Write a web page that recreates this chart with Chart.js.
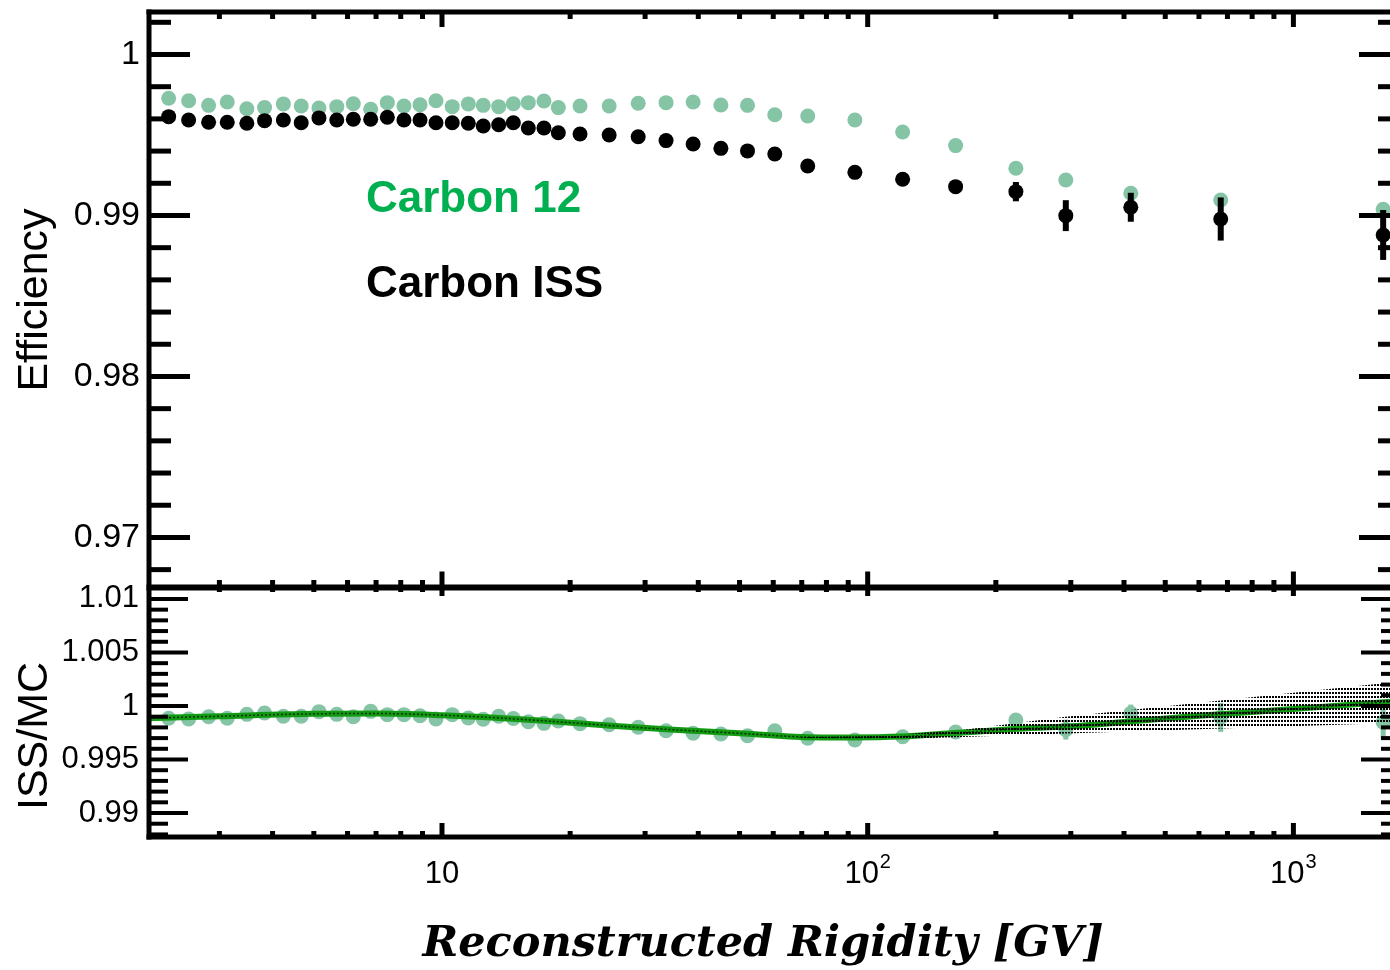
<!DOCTYPE html>
<html><head><meta charset="utf-8">
<script src="https://cdn.jsdelivr.net/npm/chart.js@4.4.1/dist/chart.umd.min.js"></script>
<style>
html,body{margin:0;padding:0;overflow:hidden;background:#fff;width:1390px;height:970px}
#wrap{position:absolute;left:0;top:0;width:1410px;height:970px}
</style>
</head><body><div id="wrap"><canvas id="c" width="1410" height="970"></canvas></div>
<script>
// ---------------- data ----------------
const rigidity = [2.28, 2.54, 2.83, 3.13, 3.48, 3.83, 4.24, 4.67, 5.14, 5.66, 6.19, 6.80, 7.44, 8.14, 8.88, 9.68,
  10.57, 11.53, 12.50, 13.59, 14.71, 15.95, 17.36, 18.76, 21.1, 24.7, 28.9, 33.6, 38.9, 45.2, 52.2, 60.5, 72.3,
  93.3, 120.8, 160.9, 222.9, 292, 415, 675, 1625];
const effMC = [0.99728, 0.99713, 0.99684, 0.99705, 0.99663, 0.99670, 0.99693, 0.99680, 0.99668, 0.99676, 0.99694,
  0.99660, 0.99701, 0.99680, 0.99688, 0.99713, 0.99676, 0.99693, 0.99684, 0.99676, 0.99694, 0.99701, 0.99711,
  0.99670, 0.99680, 0.99680, 0.99697, 0.99701, 0.99705, 0.99686, 0.99684, 0.99626, 0.99618, 0.99593, 0.99519,
  0.99434, 0.99293, 0.99220, 0.99138, 0.99096, 0.99038];
const effISS = [0.99614, 0.99593, 0.99579, 0.99579, 0.99573, 0.99589, 0.99593, 0.99576, 0.99606, 0.99593, 0.99598,
  0.99598, 0.99610, 0.99593, 0.99593, 0.99576, 0.99576, 0.99573, 0.99556, 0.99564, 0.99576, 0.99543, 0.99543,
  0.99514, 0.99506, 0.99500, 0.99489, 0.99465, 0.99444, 0.99417, 0.99401, 0.99382, 0.99307, 0.99268, 0.99225,
  0.99179, 0.99148, 0.98999, 0.99051, 0.98978, 0.98879];
const effISSErr = [0.00008, 0.00008, 0.00008, 0.00008, 0.00008, 0.00008, 0.00008, 0.00008, 0.00008, 0.00008, 0.00008,
  0.00008, 0.00008, 0.00008, 0.00008, 0.00008, 0.00008, 0.00008, 0.00008, 0.00008, 0.00008, 0.00008, 0.00008,
  0.00008, 0.0001, 0.0001, 0.0001, 0.0001, 0.0001, 0.0001, 0.0001, 0.00015, 0.00015, 0.00015, 0.0002,
  0.0003, 0.0006, 0.00096, 0.0009, 0.00134, 0.00155];
const ratio = [0.99885, 0.99879, 0.99900, 0.99885, 0.99922, 0.99935, 0.99904, 0.99904, 0.99947, 0.99922, 0.99900,
  0.99950, 0.99919, 0.99919, 0.99909, 0.99879, 0.99919, 0.99888, 0.99876, 0.99904, 0.99883, 0.99853, 0.99838,
  0.99860, 0.99835, 0.99825, 0.99801, 0.99769, 0.99745, 0.99738, 0.99722, 0.99769, 0.99698, 0.99682, 0.99713,
  0.99757, 0.99869, 0.99779, 0.99932, 0.99894, 0.99848];
const ratioErr = [0.0001, 0.0001, 0.0001, 0.0001, 0.0001, 0.0001, 0.0001, 0.0001, 0.0001, 0.0001, 0.0001,
  0.0001, 0.0001, 0.0001, 0.0001, 0.0001, 0.0001, 0.0001, 0.0001, 0.0001, 0.0001, 0.0001, 0.0001,
  0.0001, 0.00012, 0.00012, 0.00012, 0.00012, 0.00012, 0.00012, 0.00015, 0.00015, 0.0002, 0.0002, 0.00025,
  0.0004, 0.0006, 0.00093, 0.00081, 0.00136, 0.00159];
const fitRigidity = [2.05, 3, 5, 7, 10, 13, 17, 25, 35, 50, 70, 90, 120, 160, 220, 300, 400, 600, 1000, 1780];
const fitRatio = [0.99886, 0.99904, 0.99927, 0.99930, 0.99914, 0.99893, 0.99864, 0.99816, 0.99778, 0.99745,
  0.99711, 0.99706, 0.99714, 0.99747, 0.99784, 0.99810, 0.99850, 0.99908, 0.99972, 1.00047];
const bandRigidity = [69, 107, 167, 292, 675, 1780];
const bandUpper = [0.99708, 0.99720, 0.99776, 0.99900, 1.00052, 1.00229];
const bandLower = [0.99704, 0.99687, 0.99710, 0.99742, 0.99789, 0.99843];
const seriesNames = ['Carbon 12', 'Carbon ISS'];
const effTicks = [0.97, 0.98, 0.99, 1];
const ratioTicks = [0.99, 0.995, 1, 1.005, 1.01];
const xTickValues = [10, 100, 1000];
const xTickBase = ['10', '10', '10'];
const xTickSup = ['', '2', '3'];
const xTitle = 'Reconstructed Rigidity [GV]';
const yTitleTop = 'Efficiency';
const yTitleBottom = 'ISS/MC';

// ---------------- styling ----------------
const MINT = '#86c4a6';
const FITGREEN = '#129a12';
const pts = (xs, ys) => xs.map((v, i) => ({x: v, y: ys[i]}));

const pc = document.createElement('canvas'); pc.width = 3; pc.height = 4;
const pctx = pc.getContext('2d'); pctx.fillStyle = '#000'; pctx.fillRect(0, 0, 2, 2);
const bandPattern = document.getElementById('c').getContext('2d').createPattern(pc, 'repeat');

const errPlugin = {
  id: 'errbars',
  afterDatasetDraw(chart, args) {
    const ds = chart.data.datasets[args.index];
    if (!ds.errors) return;
    const {ctx} = chart;
    const xs = chart.scales.x, ys = chart.scales[ds.yAxisID];
    ctx.save();
    ctx.strokeStyle = ds.errorColor; ctx.lineWidth = ds.errorWidth; ctx.lineCap = 'butt';
    ds.data.forEach((p, i) => {
      const px = xs.getPixelForValue(p.x);
      ctx.beginPath();
      ctx.moveTo(px, ys.getPixelForValue(p.y - ds.errors[i]));
      ctx.lineTo(px, ys.getPixelForValue(p.y + ds.errors[i]));
      ctx.stroke();
    });
    ctx.restore();
  }
};

const framePlugin = {
  id: 'frame',
  afterDraw(chart) {
    const {ctx, chartArea: ca} = chart;
    const xs = chart.scales.x, yt = chart.scales.y, yb = chart.scales.yr;
    const L = ca.left, R = ca.right, T = ca.top, B = ca.bottom, M = yt.bottom;
    ctx.save();
    ctx.strokeStyle = '#000'; ctx.lineCap = 'butt';
    const line = (x1, y1, x2, y2, w) => { ctx.lineWidth = w; ctx.beginPath(); ctx.moveTo(x1, y1); ctx.lineTo(x2, y2); ctx.stroke(); };
    // frame
    line(L, T - 2.5, L, B + 2.5, 5);
    line(R, T - 2.5, R, B + 2.5, 5);
    line(L - 2.5, T, R + 2.5, T, 5);
    line(L - 2.5, M, R + 2.5, M, 6);
    line(L - 2.5, B, R + 2.5, B, 5);
    // top panel y ticks
    for (let m = 968; m <= 1002; m += 2) {
      const py = yt.getPixelForValue(m / 1000);
      if (py < T || py > M) continue;
      const major = m % 10 === 0;
      const len = major ? 41 : 22;
      line(L, py, L + len, py, 5);
      line(R, py, R - len, py, 5);
    }
    // bottom panel y ticks
    for (let m = 9880; m <= 10110; m += 10) {
      const py = yb.getPixelForValue(m / 10000);
      if (py < M + 2 || py > B - 2) continue;
      const major = m % 50 === 0;
      const len = major ? 39 : 19;
      line(L, py, L + len, py, 4);
      line(R, py, R - len, py, 4);
    }
    // x ticks
    for (const dec of [1, 10, 100, 1000]) {
      for (let k = 1; k <= 9; k++) {
        const v = k * dec;
        if (v < xs.min || v > xs.max) continue;
        const px = xs.getPixelForValue(v);
        const major = k === 1;
        line(px, T, px, T + (major ? 15 : 7), 5);
        line(px, M - (major ? 16 : 7.5), px, M + (major ? 8.5 : 4.5), 5);
        line(px, B, px, B - (major ? 14 : 6), 5);
      }
    }
    // x tick labels
    ctx.fillStyle = '#000'; ctx.textBaseline = 'alphabetic';
    xTickValues.forEach((v, i) => {
      const px = xs.getPixelForValue(v);
      ctx.font = '31px "Liberation Sans", Arial, sans-serif';
      const wb = ctx.measureText(xTickBase[i]).width;
      ctx.font = '20px "Liberation Sans", Arial, sans-serif';
      const ws = xTickSup[i] ? ctx.measureText(xTickSup[i]).width + 1 : 0;
      const x0 = px - (wb + ws) / 2;
      ctx.font = '31px "Liberation Sans", Arial, sans-serif';
      ctx.textAlign = 'left';
      ctx.fillText(xTickBase[i], x0, 883);
      if (xTickSup[i]) {
        ctx.font = '20px "Liberation Sans", Arial, sans-serif';
        ctx.fillText(xTickSup[i], x0 + wb + 1, 868);
      }
    });
    // x title
    ctx.font = 'italic bold 43px "DejaVu Serif", serif';
    ctx.textAlign = 'center';
    ctx.fillText(xTitle, 763, 956);
    // y titles
    ctx.font = '43px "Liberation Sans", Arial, sans-serif';
    ctx.textBaseline = 'middle';
    ctx.save(); ctx.translate(35, 300); ctx.rotate(-Math.PI / 2); ctx.fillText(yTitleTop, 0, 0); ctx.restore();
    ctx.save(); ctx.translate(35, 736); ctx.rotate(-Math.PI / 2); ctx.fillText(yTitleBottom, 0, 0); ctx.restore();
    // legend text
    ctx.textAlign = 'left'; ctx.textBaseline = 'alphabetic';
    ctx.font = 'bold 44px "Liberation Sans", Arial, sans-serif';
    ctx.fillStyle = '#00b050'; ctx.fillText(seriesNames[0], 366, 212);
    ctx.fillStyle = '#000'; ctx.fillText(seriesNames[1], 366, 297);
    ctx.restore();
  }
};

const tickFmt = v => String(Number(v.toFixed(4)));
const fitY = s => { s.width = 149; s.paddingTop = 0; s.paddingBottom = 0; };

new Chart(document.getElementById('c'), {
  type: 'line',
  data: {
    datasets: [
      {label: 'band upper', data: pts(bandRigidity, bandUpper), yAxisID: 'yr', borderWidth: 0, pointRadius: 0, fill: false, order: 0, borderColor: 'rgba(0,0,0,0)'},
      {label: 'band lower', data: pts(bandRigidity, bandLower), yAxisID: 'yr', borderWidth: 0, pointRadius: 0, fill: '-1', backgroundColor: bandPattern, order: 0, borderColor: 'rgba(0,0,0,0)'},
      {label: 'fit core', data: pts(fitRigidity, fitRatio), yAxisID: 'yr', borderColor: 'rgba(0,40,0,0.9)', borderWidth: 1.5, borderDash: [2, 2], pointRadius: 0, cubicInterpolationMode: 'monotone', fill: false, order: 1},
      {label: 'fit', data: pts(fitRigidity, fitRatio), yAxisID: 'yr', borderColor: FITGREEN, borderWidth: 6, pointRadius: 0, cubicInterpolationMode: 'monotone', fill: false, order: 2},
      {label: 'ISS/MC', data: pts(rigidity, ratio), yAxisID: 'yr', showLine: false, pointRadius: 7.5, pointBackgroundColor: MINT, pointBorderWidth: 0, borderColor: MINT, order: 3,
        errors: ratioErr, errorColor: MINT, errorWidth: 5},
      {label: seriesNames[1], data: pts(rigidity, effISS), yAxisID: 'y', showLine: false, pointRadius: 7.5, pointBackgroundColor: '#000', pointBorderWidth: 0, borderColor: '#000', order: 4,
        errors: effISSErr, errorColor: '#000', errorWidth: 6},
      {label: seriesNames[0], data: pts(rigidity, effMC), yAxisID: 'y', showLine: false, pointRadius: 7.5, pointBackgroundColor: MINT, pointBorderWidth: 0, borderColor: MINT, order: 5}
    ]
  },
  options: {
    responsive: false, animation: false, events: [],
    layout: {padding: {top: 12, right: 10, left: 0, bottom: 0}},
    plugins: {legend: {display: false}, tooltip: {enabled: false}},
    scales: {
      x: {type: 'logarithmic', min: 2.05, max: 1780, position: 'bottom',
        ticks: {display: false}, grid: {display: false, drawTicks: false}, border: {display: false},
        afterFit: s => { s.height = 133; s.paddingLeft = 0; s.paddingRight = 0; }},
      yr: {type: 'linear', position: 'left', stack: 'panels', stackWeight: 249.5, min: 0.98776, max: 1.01107,
        grid: {display: false, drawTicks: false}, border: {display: false},
        ticks: {autoSkip: false, padding: 10, color: '#000', font: {family: '"Liberation Sans", Arial, sans-serif', size: 31}, callback: tickFmt},
        afterBuildTicks: s => { s.ticks = ratioTicks.map(v => ({value: v})); },
        afterFit: fitY},
      y: {type: 'linear', position: 'left', stack: 'panels', stackWeight: 575.5, min: 0.96689, max: 1.00264,
        grid: {display: false, drawTicks: false}, border: {display: false},
        ticks: {autoSkip: false, padding: 9, color: '#000', font: {family: '"Liberation Sans", Arial, sans-serif', size: 34}, callback: tickFmt},
        afterBuildTicks: s => { s.ticks = effTicks.map(v => ({value: v})); },
        afterFit: fitY}
    }
  },
  plugins: [errPlugin, framePlugin]
});
</script>
</body></html>
